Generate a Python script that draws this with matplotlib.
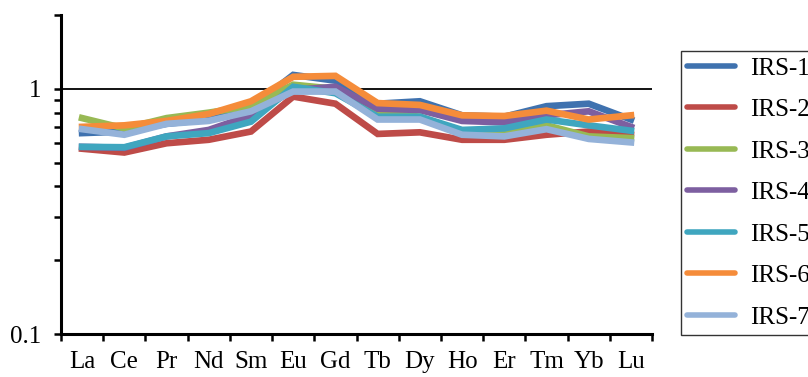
import numpy as np
import matplotlib.pyplot as plt
from matplotlib.ticker import LogLocator, FixedLocator, NullFormatter

plt.rcParams['font.family'] = ['Liberation Serif', 'DejaVu Serif']

# REE elements
elements = ['La', 'Ce', 'Pr', 'Nd', 'Sm', 'Eu', 'Gd', 'Tb', 'Dy', 'Ho', 'Er', 'Tm', 'Yb', 'Lu']

# normalised values
irs1 = [0.66, 0.67, 0.72, 0.75, 0.84, 1.14, 1.08, 0.87, 0.89, 0.78, 0.77, 0.85, 0.87, 0.75]
irs2 = [0.57, 0.55, 0.60, 0.62, 0.67, 0.93, 0.87, 0.655, 0.665, 0.62, 0.62, 0.65, 0.67, 0.65]
irs3 = [0.76, 0.69, 0.76, 0.80, 0.85, 1.04, 1.00, 0.80, 0.77, 0.67, 0.665, 0.71, 0.64, 0.63]
irs4 = [0.58, 0.575, 0.64, 0.68, 0.78, 0.99, 1.02, 0.83, 0.82, 0.74, 0.73, 0.78, 0.81, 0.70]
irs5 = [0.58, 0.578, 0.64, 0.66, 0.735, 1.02, 0.96, 0.77, 0.77, 0.68, 0.69, 0.75, 0.71, 0.675]
irs6 = [0.70, 0.71, 0.74, 0.79, 0.89, 1.12, 1.13, 0.875, 0.86, 0.78, 0.775, 0.815, 0.75, 0.78]
irs7 = [0.685, 0.65, 0.72, 0.74, 0.81, 0.975, 0.975, 0.75, 0.75, 0.65, 0.64, 0.685, 0.625, 0.605]

series = [irs1, irs2, irs3, irs4, irs5, irs6, irs7]
names = ['IRS-1', 'IRS-2', 'IRS-3', 'IRS-4', 'IRS-5', 'IRS-6', 'IRS-7']
colors = ['#3F72AF', '#BE4B48', '#98B954', '#7D5FA0', '#3FA6BF', '#F58C3A', '#94B2D9']

fig = plt.figure(figsize=(8.08, 3.77), dpi=100)
ax = fig.add_axes([0.0755, 0.114, 0.7315, 0.846])

x = np.arange(len(elements))
for vals, name, c in zip(series, names, colors):
    ax.plot(x, vals, color=c, lw=4.8, label=name, solid_joinstyle='miter')

ax.set_yscale('log')
ax.set_ylim(0.1, 2)
ax.set_xlim(-0.5, len(elements) - 0.5)

ax.yaxis.set_major_locator(FixedLocator([0.1, 1]))
ax.set_yticklabels(['0.1', '1'])
ax.yaxis.set_minor_locator(LogLocator(base=10, subs=np.arange(2, 10)))
ax.yaxis.set_minor_formatter(NullFormatter())
ax.yaxis.grid(True, which='major', color='black', lw=1.3)
ax.set_axisbelow(True)

# ticks between categories, labels at centres
ax.set_xticks(np.arange(-0.5, len(elements)), minor=False)
ax.set_xticklabels([])
ax.set_xticks(x, minor=True)
ax.set_xticklabels(elements, minor=True)

ax.tick_params(which='both', direction='out', length=5, width=1.8, labelsize=18, colors='black')
ax.tick_params(axis='x', which='minor', length=0, pad=12)
ax.tick_params(axis='y', pad=9)

for s in ['top', 'right']:
    ax.spines[s].set_visible(False)
for s in ['left', 'bottom']:
    ax.spines[s].set_linewidth(2.2)

leg = fig.legend(loc='upper left', bbox_to_anchor=(0.843, 0.865), fontsize=18,
                 frameon=True, fancybox=False, edgecolor='black', handlelength=1.9,
                 labelspacing=0.76, handletextpad=0.6, borderpad=0.25, borderaxespad=0)
leg.get_frame().set_linewidth(1.0)
for h in leg.get_lines():
    h.set_linewidth(4)
    h.set_solid_capstyle('round')

fig.savefig('out.png', dpi=100)
